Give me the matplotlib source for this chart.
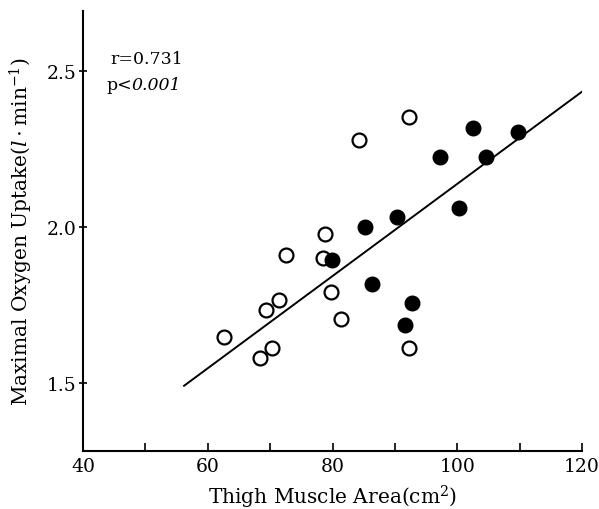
"""Thigh muscle area vs maximal oxygen uptake scatter"""
import matplotlib
matplotlib.use("Agg")
import matplotlib.pyplot as plt
import numpy as np

# open circles
open_x = [92.2, 84.3, 78.8, 72.5, 78.5, 79.7, 71.4, 69.3, 81.3, 62.6, 70.3, 68.4, 92.2]
open_y = [2.353, 2.28, 1.978, 1.911, 1.90, 1.791, 1.766, 1.734, 1.705, 1.647, 1.611, 1.58, 1.611]

# filled circles
filled_x = [102.5, 109.8, 97.2, 104.6, 100.3, 90.4, 85.2, 79.9, 86.3, 92.7, 91.6]
filled_y = [2.317, 2.304, 2.225, 2.223, 2.062, 2.031, 1.999, 1.893, 1.818, 1.756, 1.687]

# regression line
fit_slope = 0.01477
fit_intercept = 0.661
fit_range = [56.2, 120.4]

plt.rcParams['font.family'] = ['DejaVu Serif']
plt.rcParams['mathtext.fontset'] = 'dejavuserif'

fig = plt.figure(figsize=(5.99, 5.10), dpi=100)
ax = fig.add_axes([0.1386, 0.1137, 0.8330, 0.8628])

lx = np.array(fit_range)
ax.plot(lx, fit_intercept + fit_slope * lx, color='black', lw=1.4)
ax.plot(open_x, open_y, 'o', ms=10, mfc='white', mec='black', mew=1.6, ls='none')
ax.plot(filled_x, filled_y, 'o', ms=10.5, mfc='black', mec='black', ls='none')

ax.set_xlim(40, 120)
ax.set_ylim(1.282, 2.692)
ax.set_xticks([40, 60, 80, 100, 120])
ax.set_xticks([50, 70, 90, 110], minor=True)
ax.set_yticks([1.5, 2.0, 2.5])
ax.set_yticklabels(['1.5', '2.0', '2.5'])
ax.tick_params(axis='x', direction='in', length=6, width=1.2, labelsize=13.5, pad=4)
ax.tick_params(axis='x', which='minor', direction='in', length=6, width=1.2)
ax.tick_params(axis='y', direction='inout', length=6, width=1.2, labelsize=13.5, pad=2)

for s in ['top', 'right']:
    ax.spines[s].set_visible(False)
for s in ['left', 'bottom']:
    ax.spines[s].set_linewidth(1.5)

ax.set_xlabel('Thigh Muscle Area(cm$^2$)', fontsize=14.5, labelpad=6)
ax.set_ylabel('Maximal Oxygen Uptake($l\\cdot$min$^{-1}$)', fontsize=14.5, labelpad=8)

ax.text(0.054, 0.891, 'r=0.731', transform=ax.transAxes, fontsize=12.5, va='center')
ax.text(0.048, 0.834, 'p<', transform=ax.transAxes, fontsize=12.5, va='center')
ax.text(0.098, 0.834, '0.001', transform=ax.transAxes, fontsize=12.5, style='italic', va='center')

fig.savefig('out.png', dpi=100)
